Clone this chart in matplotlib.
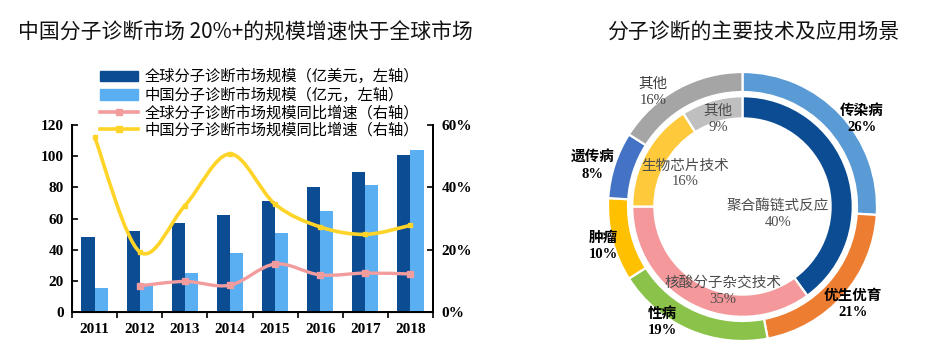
import matplotlib
matplotlib.use("Agg")
import matplotlib.pyplot as plt
from matplotlib.path import Path
from matplotlib.patches import Patch, PathPatch
from matplotlib.lines import Line2D
import numpy as np

CJK = 'Noto Sans CJK SC'
SERIF = ['Liberation Serif', CJK]
plt.rcParams['font.family'] = [CJK, 'DejaVu Sans']

# ── data: left chart ───────────────────────────────────────────────────────
years = ['2011', '2012', '2013', '2014', '2015', '2016', '2017', '2018']
global_size = [48, 52, 57, 62, 71.5, 80, 90, 101]          # 亿美元
china_size = [15.5, 18, 25, 38, 51, 65, 81.5, 104]          # 亿元
global_growth = [None, 8.4, 9.8, 8.6, 15.4, 11.9, 12.5, 12.2]   # %
china_growth = [56.2, 19.3, 34.1, 50.7, 34.6, 27.3, 24.9, 27.8]  # %

# ── data: right chart ──────────────────────────────────────────────────────
app_labels = ['传染病', '优生优育', '性病', '肿瘤', '遗传病', '其他']
app_share = [26, 21, 19, 10, 8, 16]
tech_labels = ['聚合酶链式反应', '核酸分子杂交技术', '生物芯片技术', '其他']
tech_share = [40, 35, 16, 9]

C_DARK = '#0B4C93'
C_LIGHT = '#5AAEF2'
C_PINK = '#F39C9E'
C_YELLOW = '#FFD428'
app_colors = ['#5B9BD5', '#ED7D31', '#8BC34A', '#FFC000', '#4472C4', '#A5A5A5']
tech_colors = ['#0B4C93', '#F4989B', '#FFC93C', '#BFBFBF']


def smooth_path(xs, ys):
    # Catmull-Rom through the points, drawn as cubic beziers (Excel-style smoothing)
    pts = np.column_stack([xs, ys]).astype(float)
    n = len(pts)
    verts, codes = [pts[0]], [Path.MOVETO]
    for i in range(n - 1):
        p0, p1 = pts[max(i - 1, 0)], pts[i]
        p2, p3 = pts[i + 1], pts[min(i + 2, n - 1)]
        verts += [p1 + (p2 - p0) / 6, p2 - (p3 - p1) / 6, p2]
        codes += [Path.CURVE4] * 3
    return Path(verts, codes)


W, H = 949, 356
fig = plt.figure(figsize=(W / 100, H / 100), dpi=100)

# ── left: bars + growth lines ──────────────────────────────────────────────
ax = fig.add_axes([72 / W, 44 / H, 361 / W, 187 / H])
x = np.arange(len(years))
bw = 0.29
ax.bar(x - bw, global_size, bw, align='edge', color=C_DARK, zorder=2)
ax.bar(x, china_size, bw, align='edge', color=C_LIGHT, zorder=2)
ax.set_xlim(-0.5, len(years) - 0.5)
ax.set_ylim(0, 120)
ax.set_yticks(range(0, 121, 20))
ax.set_xticks(np.arange(-0.5, len(years), 1))
ax.set_xticklabels([])
ax.set_xticks(x, minor=True)
ax.set_xticklabels(years, minor=True)
ax.tick_params(axis='x', which='major', direction='out', length=4, width=1.2)
ax.tick_params(axis='x', which='minor', length=0, pad=8)
ax.tick_params(axis='y', direction='in', length=4, width=1.2, pad=6)
for lab in ax.get_xticklabels(minor=True) + ax.get_yticklabels():
    lab.set_fontfamily('Liberation Serif')
    lab.set_fontweight('bold')
    lab.set_fontsize(11)
ax.spines['top'].set_visible(False)
for s in ['left', 'right', 'bottom']:
    ax.spines[s].set_linewidth(1.4)

ax2 = ax.twinx()
ax2.set_ylim(0, 60)
ax2.set_yticks(range(0, 61, 20))
ax2.set_yticklabels([f'{v}%' for v in range(0, 61, 20)])
ax2.tick_params(axis='y', direction='in', length=4, width=1.2, pad=6)
for lab in ax2.get_yticklabels():
    lab.set_fontfamily('Liberation Serif')
    lab.set_fontweight('bold')
    lab.set_fontsize(11)
ax2.spines['top'].set_visible(False)
ax2.spines['right'].set_linewidth(1.4)

gx = [i for i, v in enumerate(global_growth) if v is not None]
gy = [v for v in global_growth if v is not None]
ax2.add_patch(PathPatch(smooth_path(gx, gy), fill=False, edgecolor=C_PINK, lw=2.4, zorder=3))
ax2.plot(gx, gy, 's', color=C_PINK, ms=4, zorder=4)
ax2.add_patch(PathPatch(smooth_path(x, china_growth), fill=False, edgecolor=C_YELLOW, lw=2.6, zorder=3))
ax2.plot(x, china_growth, 's', color=C_YELLOW, ms=3.5, zorder=4)

handles = [
    Patch(color=C_DARK),
    Patch(color=C_LIGHT),
    Line2D([], [], color=C_PINK, lw=2.6, marker='s', ms=5),
    Line2D([], [], color=C_YELLOW, lw=2.6, marker='s', ms=5),
]
labels = ['全球分子诊断市场规模（亿美元，左轴）', '中国分子诊断市场规模（亿元，左轴）',
          '全球分子诊断市场规模同比增速（右轴）', '中国分子诊断市场规模同比增速（右轴）']
fig.legend(handles, labels, loc='upper left', bbox_to_anchor=(100 / W, 1 - 69 / H),
           frameon=False, handlelength=2.5, handletextpad=0.4,
           labelspacing=0.18, borderpad=0, borderaxespad=0,
           prop={'family': SERIF, 'size': 11})

fig.text(18 / W, 1 - 33 / H, '中国分子诊断市场 20%+的规模增速快于全球市场',
         fontsize=15, va='center', ha='left', color='#111111')

# ── right: double donut ────────────────────────────────────────────────────
cx, cy, R = 742.5, 206.5, 134.5
half = 150
axp = fig.add_axes([(cx - half) / W, (H - cy - half) / H, 2 * half / W, 2 * half / H])
axp.pie(app_share, radius=1.0, startangle=90, counterclock=False, colors=app_colors,
        wedgeprops=dict(width=0.149, edgecolor='white', linewidth=1.6))
axp.pie(tech_share, radius=0.82, startangle=90, counterclock=False, colors=tech_colors,
        wedgeprops=dict(width=0.165, edgecolor='white', linewidth=1.6))
lim = half / R
axp.set_xlim(-lim, lim)
axp.set_ylim(-lim, lim)
axp.set_aspect('equal')
axp.axis('off')

app_pos = [(0.888, 0.651), (0.822, -0.725), (-0.597, -0.859),
           (-1.037, -0.294), (-1.112, 0.301), (-0.665, 0.851)]
for name, share, (px, py) in zip(app_labels, app_share, app_pos):
    bold = name != '其他'
    axp.text(px, py, f'{name}\n{share}%', ha='center', va='center',
             fontsize=10.5, linespacing=1.3, family=SERIF,
             fontweight='bold' if bold else 'normal',
             color='black' if bold else '#404040')

tech_pos = [(0.264, -0.056), (-0.145, -0.628), (-0.428, 0.242), (-0.182, 0.651)]
for name, share, (px, py) in zip(tech_labels, tech_share, tech_pos):
    axp.text(px, py, f'{name}\n{share}%', ha='center', va='center',
             fontsize=10.5, linespacing=1.3, family=SERIF, color='#4D4D4D')

fig.text(753 / W, 1 - 33 / H, '分子诊断的主要技术及应用场景',
         fontsize=15, va='center', ha='center', color='#111111')

fig.savefig('out.png', dpi=100)
